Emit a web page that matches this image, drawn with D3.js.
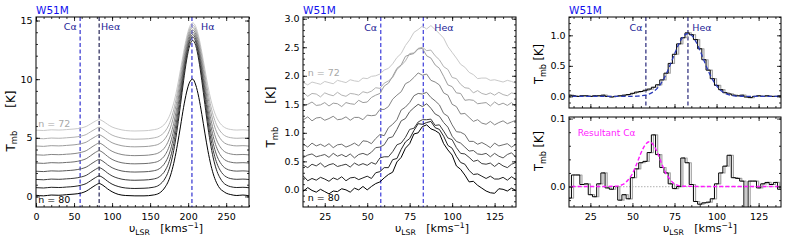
<!DOCTYPE html>
<html>
<head>
<meta charset="utf-8">
<script src="https://cdn.jsdelivr.net/npm/d3@7"></script>
<style>
  body { margin: 0; background: #fff; }
  svg { display: block; }
</style>
</head>
<body>
<svg id="chart" width="789" height="242"></svg>
<script>
// ---------- data ----------
const orders = [72, 73, 74, 75, 76, 77, 78, 79, 80];

// left panel: full band, velocity grid (km/s)
const wideV = [0,10,20,30,40,50,60,66,72,78,83,88,94,100,108,118,130,142,154,162,
  170,174,178,182,186,190,194,198,202,206,210,214,218,222,226,230,234,238,242,246,250,
  256,264,272,280];
const wide72 = [5.65,5.62,5.68,5.66,5.70,5.75,5.85,5.97,6.19,6.42,6.55,6.42,6.15,5.92,5.75,5.62,5.58,5.60,5.68,5.82,
  6.24,6.66,7.30,8.21,9.41,10.83,12.29,13.58,14.48,14.80,14.48,13.58,12.29,10.83,9.41,8.21,7.30,6.66,6.24,5.97,5.81,
  5.71,5.66,5.68,5.64];
const wide73 = [4.95,4.92,4.98,4.96,5.00,5.05,5.16,5.28,5.52,5.75,5.90,5.75,5.47,5.23,5.05,4.92,4.88,4.90,4.98,5.13,
  5.58,6.01,6.69,7.65,8.92,10.41,11.96,13.32,14.26,14.60,14.26,13.32,11.96,10.41,8.92,7.65,6.69,6.01,5.58,5.29,5.12,
  5.01,4.96,4.98,4.94];
const wide74 = [4.30,4.27,4.33,4.31,4.35,4.40,4.51,4.63,4.87,5.10,5.25,5.10,4.82,4.58,4.40,4.27,4.23,4.25,4.33,4.49,
  4.96,5.41,6.12,7.13,8.45,10.02,11.63,13.06,14.05,14.40,14.05,13.06,11.63,10.02,8.45,7.13,6.12,5.41,4.96,4.65,4.48,
  4.37,4.31,4.33,4.29];
const wide75 = [3.55,3.52,3.58,3.56,3.60,3.65,3.77,3.90,4.15,4.40,4.55,4.40,4.10,3.85,3.65,3.52,3.48,3.50,3.58,3.75,
  4.24,4.72,5.47,6.53,7.93,9.58,11.28,12.78,13.83,14.20,13.83,12.78,11.28,9.58,7.93,6.53,5.47,4.72,4.24,3.92,3.74,
  3.62,3.56,3.58,3.54];
const wide76 = [2.85,2.82,2.88,2.86,2.90,2.95,3.08,3.22,3.48,3.75,3.90,3.74,3.42,3.16,2.95,2.82,2.78,2.80,2.88,3.05,
  3.57,4.08,4.86,5.97,7.43,9.16,10.94,12.52,13.61,14.00,13.61,12.52,10.94,9.16,7.43,5.97,4.86,4.08,3.57,3.24,3.05,
  2.92,2.86,2.88,2.84];
const wide77 = [2.15,2.12,2.18,2.16,2.20,2.25,2.37,2.50,2.75,3.00,3.15,3.00,2.70,2.45,2.25,2.12,2.08,2.10,2.18,2.36,
  2.91,3.43,4.25,5.41,6.94,8.74,10.61,12.25,13.39,13.80,13.39,12.25,10.61,8.74,6.94,5.41,4.25,3.43,2.91,2.56,2.36,
  2.22,2.16,2.18,2.14];
const wide78 = [1.45,1.42,1.48,1.46,1.50,1.55,1.67,1.80,2.05,2.30,2.45,2.30,2.00,1.75,1.55,1.42,1.38,1.40,1.48,1.67,
  2.24,2.79,3.64,4.85,6.44,8.33,10.27,11.98,13.17,13.60,13.17,11.98,10.27,8.33,6.44,4.85,3.64,2.79,2.24,1.88,1.67,
  1.52,1.46,1.48,1.44];
const wide79 = [0.75,0.72,0.78,0.76,0.80,0.85,0.97,1.10,1.35,1.60,1.75,1.60,1.30,1.05,0.85,0.72,0.68,0.70,0.78,0.98,
  1.57,2.13,3.01,4.26,5.91,7.85,9.86,11.63,12.86,13.30,12.86,11.63,9.86,7.85,5.91,4.26,3.01,2.13,1.57,1.19,0.98,
  0.83,0.76,0.78,0.74];
const wide80 = [0.10,0.05,0.12,0.10,0.15,0.20,0.30,0.45,0.70,0.95,1.10,0.95,0.65,0.40,0.18,0.08,0.05,0.05,0.12,0.28,
  0.82,1.30,2.05,3.10,4.45,6.00,7.60,8.90,9.75,10.00,9.50,8.45,7.00,5.40,3.90,2.65,1.72,1.08,0.66,0.45,0.28,
  0.16,0.08,0.12,0.05];

// middle panel: He/C region, 2.5 km/s channels
const zoomV = [10,12.5,15,17.5,20,22.5,25,27.5,30,32.5,35,37.5,40,42.5,45,47.5,50,52.5,55,57.5,
  60,62.5,65,67.5,70,72.5,75,77.5,80,82.5,85,87.5,90,92.5,95,97.5,100,102.5,105,107.5,
  110,112.5,115,117.5,120,122.5,125,127.5,130,132.5,135,137.5,140];
const zoom72 = [1.85,1.88,1.84,1.89,1.87,1.85,1.90,1.88,1.86,1.92,1.90,1.88,1.93,1.91,1.90,1.96,1.95,1.99,2.00,2.03,
  2.10,2.13,2.21,2.32,2.39,2.53,2.63,2.76,2.81,2.87,2.82,2.88,2.81,2.74,2.66,2.51,2.41,2.31,2.20,2.15,
  2.06,2.02,1.95,1.96,1.96,1.92,1.93,1.91,1.89,1.92,1.90,1.87,1.88];
const zoom73 = [1.66,1.70,1.64,1.69,1.68,1.63,1.70,1.67,1.65,1.71,1.66,1.64,1.69,1.68,1.66,1.72,1.70,1.73,1.79,1.78,
  1.87,1.91,1.97,2.11,2.18,2.26,2.39,2.40,2.48,2.50,2.44,2.45,2.35,2.28,2.16,2.11,1.97,1.95,1.85,1.79,
  1.78,1.70,1.74,1.69,1.67,1.70,1.66,1.71,1.67,1.65,1.70,1.68,1.66];
const zoom74 = [1.52,1.47,1.50,1.54,1.48,1.49,1.53,1.47,1.52,1.51,1.46,1.53,1.51,1.50,1.57,1.53,1.54,1.62,1.66,1.69,
  1.82,1.87,1.99,2.13,2.19,2.34,2.37,2.39,2.47,2.48,2.35,2.31,2.19,2.13,1.99,1.84,1.81,1.70,1.69,1.57,
  1.58,1.57,1.51,1.52,1.53,1.47,1.54,1.49,1.52,1.48,1.53,1.46,1.51];
const zoom75 = [1.27,1.23,1.28,1.21,1.26,1.27,1.22,1.25,1.29,1.23,1.24,1.28,1.22,1.27,1.27,1.23,1.31,1.30,1.31,1.41,
  1.41,1.46,1.59,1.66,1.72,1.86,1.90,1.97,2.05,2.01,2.03,1.92,1.89,1.84,1.70,1.66,1.50,1.46,1.33,1.34,
  1.27,1.20,1.23,1.17,1.15,1.20,1.14,1.18,1.21,1.16,1.19,1.22,1.17];
const zoom76 = [0.78,0.80,0.75,0.82,0.77,0.80,0.76,0.81,0.74,0.79,0.80,0.75,0.78,0.82,0.77,0.86,0.85,0.81,0.90,0.97,
  0.95,1.09,1.15,1.23,1.40,1.45,1.53,1.65,1.69,1.68,1.71,1.62,1.56,1.49,1.34,1.29,1.14,1.02,1.01,0.97,
  0.85,0.85,0.80,0.83,0.79,0.74,0.82,0.77,0.79,0.81,0.75,0.80,0.76];
const zoom77 = [0.64,0.57,0.61,0.63,0.58,0.60,0.62,0.57,0.64,0.59,0.62,0.58,0.63,0.56,0.62,0.64,0.61,0.66,0.74,0.75,
  0.79,0.91,0.93,1.06,1.21,1.25,1.37,1.44,1.50,1.46,1.51,1.43,1.33,1.29,1.18,1.10,0.94,0.85,0.82,0.75,
  0.68,0.69,0.63,0.62,0.64,0.58,0.64,0.59,0.56,0.62,0.65,0.57,0.61];
const zoom78 = [0.46,0.43,0.39,0.45,0.42,0.47,0.40,0.44,0.46,0.41,0.43,0.45,0.40,0.47,0.43,0.46,0.43,0.48,0.45,0.56,
  0.58,0.58,0.67,0.79,0.82,0.92,1.06,1.08,1.19,1.23,1.23,1.24,1.13,1.14,1.03,0.91,0.88,0.74,0.64,0.63,
  0.57,0.50,0.52,0.46,0.45,0.47,0.41,0.47,0.42,0.39,0.45,0.48,0.40];
const zoom79 = [0.21,0.24,0.16,0.20,0.17,0.22,0.19,0.15,0.21,0.18,0.23,0.16,0.21,0.22,0.18,0.21,0.24,0.20,0.30,0.32,
  0.39,0.39,0.53,0.55,0.71,0.84,0.90,1.04,1.16,1.15,1.18,1.20,1.09,1.06,0.94,0.78,0.73,0.59,0.48,0.45,
  0.34,0.27,0.28,0.24,0.20,0.24,0.19,0.19,0.22,0.17,0.23,0.18,0.15];
const zoom80 = [0.03,-0.02,0.04,-0.01,-0.04,0.01,-0.03,-0.07,-0.02,-0.03,0.02,0.00,-0.04,0.03,0.00,0.06,0.00,0.06,0.11,0.14,
  0.21,0.27,0.31,0.49,0.57,0.73,0.81,0.98,1.00,1.11,1.14,1.07,1.04,0.99,0.81,0.70,0.61,0.42,0.36,0.26,
  0.14,0.15,0.08,0.03,-0.02,-0.05,-0.06,0.02,0.01,-0.02,0.03,-0.01,0.00];

// right panel: stacked spectrum, Gaussian fit, residual and C-alpha fit
const stackT = [0.01,0.02,0.01,0.00,0.01,0.01,0.00,0.01,0.01,0.02,0.00,-0.01,0.00,0.01,0.02,0.03,0.05,0.07,0.08,0.10,
  0.12,0.15,0.19,0.27,0.38,0.54,0.69,0.86,0.96,1.04,1.01,0.93,0.78,0.60,0.43,0.29,0.18,0.11,0.06,0.04,
  0.02,0.01,0.02,-0.01,-0.02,0.00,0.01,0.00,0.01,0.00,0.00,0.01,0.00];
const fitV = [10,20,30,40,45.5,48,50.5,53,55.5,58,60.5,63,65.5,68,70.5,73,75.5,78,80.5,83,
  85.5,88,90.5,93,95.5,98,100.5,103,105.5,108,110.5,113,115.5,118,120.5,130,140];
const fitT = [0,0,0,0,0,0,0.002,0.004,0.010,0.022,0.045,0.087,0.156,0.257,0.392,0.555,0.728,0.883,0.991,1.03,
  0.991,0.883,0.728,0.555,0.392,0.257,0.156,0.087,0.045,0.022,0.010,0.004,0.002,0,0,0,0];
const residT = [-0.018,-0.017,0.017,0.017,0.003,0.004,-0.012,-0.015,0.004,0.020,-0.002,-0.004,0.000,-0.020,-0.012,-0.018,0.013,0.026,0.035,0.037,
  0.050,0.076,0.047,0.028,0.020,0.004,-0.003,0.000,0.042,0.035,0.003,-0.022,-0.026,-0.024,-0.023,-0.018,0.004,0.020,0.030,0.046,
  0.013,0.012,0.008,-0.040,0.008,0.008,-0.002,0.004,0.006,0.003,0.006,-0.004,0.002];
const caFitV = [10,30,40,45,47.5,50,52.5,55,57.5,60,62.5,65,67.5,70,72.5,75,80,100,140];
const caFitT = [0,0,0.0005,0.004,0.010,0.019,0.033,0.049,0.061,0.066,0.061,0.049,0.033,0.019,0.010,0.004,0.0005,0,0];

// tick labels
const wideXTicks = [0, 50, 100, 150, 200, 250];
const wideYTicks = [0, 5, 10, 15];
const zoomXTicks = [25, 50, 75, 100, 125];
const zoomYTicks = [0, 0.5, 1.0, 1.5, 2.0, 2.5, 3.0];
const stackYTicks = [0, 0.5, 1.0];
const residYTicks = [0, 0.1];

// ---------- drawing ----------
const FONT = '"DejaVu Sans", "Liberation Sans", sans-serif';
const greys = ['#c9c9c9', '#b2b2b2', '#9c9c9c', '#868686', '#6e6e6e', '#575757', '#3d3d3d', '#222222', '#000000'];
const svg = d3.select('#chart');

function panel(cfg) {
  const g = svg.append('g').attr('transform', `translate(${cfg.left},${cfg.top})`);
  const x = d3.scaleLinear().domain(cfg.xDomain).range([0, cfg.width]);
  const y = d3.scaleLinear().domain(cfg.yDomain).range([cfg.height, 0]);
  g.append('clipPath').attr('id', 'clip-' + cfg.id)
    .append('rect').attr('width', cfg.width).attr('height', cfg.height);
  const plot = g.append('g').attr('clip-path', `url(#clip-${cfg.id})`);
  return {g, x, y, plot, cfg};
}

function styleAxis(sel) {
  sel.select('.domain').remove();
  sel.selectAll('line').attr('stroke', '#000').attr('stroke-width', 0.8);
  sel.selectAll('text').attr('font-family', FONT).attr('font-size', 9.5).attr('fill', '#000');
}

// ticks on all four sides (inward), labels left/bottom, then the box
function frame(p) {
  const {g, x, y, cfg} = p;
  const w = cfg.width, h = cfg.height;
  const blank = () => '';
  const xMinor = d3.range(cfg.xMinor[0], cfg.xMinor[1] + 1e-9, cfg.xMinor[2]);
  const yMinor = d3.range(cfg.yMinor[0], cfg.yMinor[1] + 1e-9, cfg.yMinor[2]);

  g.append('g').attr('transform', `translate(0,${h})`)
    .call(d3.axisBottom(x).tickValues(cfg.xTicks).tickSize(-4).tickPadding(6.5)
      .tickFormat(cfg.xLabels ? d3.format('d') : blank))
    .call(styleAxis);
  g.append('g').attr('transform', `translate(0,${h})`)
    .call(d3.axisBottom(x).tickValues(xMinor).tickSize(-2).tickFormat(blank)).call(styleAxis);
  g.append('g').call(d3.axisTop(x).tickValues(cfg.xTicks).tickSize(-4).tickFormat(blank)).call(styleAxis);
  g.append('g').call(d3.axisTop(x).tickValues(xMinor).tickSize(-2).tickFormat(blank)).call(styleAxis);

  g.append('g')
    .call(d3.axisLeft(y).tickValues(cfg.yTicks).tickSize(-4).tickPadding(3.5).tickFormat(cfg.yFormat))
    .call(styleAxis);
  g.append('g').call(d3.axisLeft(y).tickValues(yMinor).tickSize(-2).tickFormat(blank)).call(styleAxis);
  g.append('g').attr('transform', `translate(${w},0)`)
    .call(d3.axisRight(y).tickValues(cfg.yTicks).tickSize(-4).tickFormat(blank)).call(styleAxis);
  g.append('g').attr('transform', `translate(${w},0)`)
    .call(d3.axisRight(y).tickValues(yMinor).tickSize(-2).tickFormat(blank)).call(styleAxis);

  g.append('rect').attr('width', w).attr('height', h)
    .attr('fill', 'none').attr('stroke', '#000').attr('stroke-width', 1);
}

function vline(p, v, color) {
  p.plot.append('line')
    .attr('x1', p.x(v)).attr('x2', p.x(v))
    .attr('y1', 0).attr('y2', p.cfg.height)
    .attr('stroke', color).attr('stroke-width', 1.1)
    .attr('stroke-dasharray', '4,2.5');
}

function label(p, v, t, text, color, anchor, size) {
  p.g.append('text')
    .attr('x', p.x(v)).attr('y', p.y(t))
    .attr('text-anchor', anchor || 'start')
    .attr('font-family', FONT).attr('font-size', size || 9.5)
    .attr('fill', color).text(text);
}

function title(p) {
  p.g.append('text').attr('x', 0).attr('y', -3)
    .attr('font-family', FONT).attr('font-size', 10.5).attr('fill', '#1010ee')
    .text('W51M');
}

function ylabel(px, py, spaces, size) {
  const t = svg.append('text')
    .attr('transform', `translate(${px},${py}) rotate(-90)`)
    .attr('text-anchor', 'middle')
    .attr('font-family', FONT).attr('font-size', size).attr('fill', '#000');
  t.append('tspan').text('T');
  t.append('tspan').attr('font-size', size * 0.7).attr('dy', 2.8).text('mb');
  t.append('tspan').attr('dy', -2.8).text('\u00a0'.repeat(spaces) + '[K]');
}

function xlabel(px, py) {
  const t = svg.append('text')
    .attr('x', px).attr('y', py)
    .attr('text-anchor', 'middle')
    .attr('font-family', FONT).attr('font-size', 11).attr('fill', '#000');
  t.append('tspan').text('υ');
  t.append('tspan').attr('font-size', 7.7).attr('dy', 2.8).text('LSR');
  t.append('tspan').attr('dy', -2.8).text('\u00a0\u00a0\u00a0[kms');
  t.append('tspan').attr('font-size', 7.7).attr('dy', -4).text('\u22121');
  t.append('tspan').attr('dy', 4).text(']');
}

function spectrum(p, xs, ys, color, curve, width) {
  const line = d3.line()
    .x((d, i) => p.x(xs[i]))
    .y(d => p.y(d))
    .curve(curve || d3.curveLinear);
  return p.plot.append('path').datum(ys)
    .attr('d', line).attr('fill', 'none')
    .attr('stroke', color).attr('stroke-width', width || 1)
    .attr('stroke-linejoin', 'round');
}

// ---- left panel ----
const p1 = panel({id: 'a', left: 36, top: 17, width: 213, height: 190,
  xDomain: [0, 280], yDomain: [-0.9, 15.3],
  xTicks: wideXTicks, xMinor: [0, 280, 10], xLabels: true,
  yTicks: wideYTicks, yMinor: [0, 15, 1], yFormat: d3.format('d')});
const wideSet = [wide72, wide73, wide74, wide75, wide76, wide77, wide78, wide79, wide80];
vline(p1, 58, '#2020cc');
vline(p1, 83, '#121248');
vline(p1, 205, '#2020cc');
wideSet.forEach((s, i) => spectrum(p1, wideV, s, greys[i], d3.curveMonotoneX, 1));
frame(p1);

// ---- middle panel ----
const p2 = panel({id: 'b', left: 303, top: 17, width: 213, height: 190,
  xDomain: [12.2, 137.6], yDomain: [-0.3, 3.03],
  xTicks: zoomXTicks, xMinor: [15, 135, 5], xLabels: true,
  yTicks: zoomYTicks, yMinor: [-0.2, 3.0, 0.1], yFormat: d3.format('.1f')});
const zoomSet = [zoom72, zoom73, zoom74, zoom75, zoom76, zoom77, zoom78, zoom79, zoom80];
vline(p2, 58, '#2a2ad6');
vline(p2, 83, '#2a2ad6');
zoomSet.forEach((s, i) => spectrum(p2, zoomV, s, greys[i], d3.curveLinear, 1));
frame(p2);

// ---- right panels ----
const p3 = panel({id: 'c', left: 569, top: 17, width: 212, height: 91,
  xDomain: [12.3, 138.3], yDomain: [-0.19, 1.3],
  xTicks: zoomXTicks, xMinor: [15, 135, 5], xLabels: false,
  yTicks: stackYTicks, yMinor: [-0.1, 1.3, 0.1], yFormat: d3.format('.1f')});
vline(p3, 58, '#14146e');
vline(p3, 83, '#14146e');
spectrum(p3, zoomV, stackT, '#a6a6a6', d3.curveStepAfter, 1.2);
spectrum(p3, zoomV, stackT, '#000', d3.curveStep, 1);
spectrum(p3, fitV, fitT, '#2a3ab8', d3.curveMonotoneX, 1.3).attr('stroke-dasharray', '4.5,2.5');
frame(p3);

const p4 = panel({id: 'd', left: 569, top: 117, width: 212, height: 90,
  xDomain: [12.3, 138.3], yDomain: [-0.0301, 0.1023],
  xTicks: zoomXTicks, xMinor: [15, 135, 5], xLabels: true,
  yTicks: residYTicks, yMinor: [-0.02, 0.1, 0.02], yFormat: d3.format('.1f')});
p4.plot.append('line')
  .attr('x1', 0).attr('x2', p4.cfg.width).attr('y1', p4.y(0)).attr('y2', p4.y(0))
  .attr('stroke', '#c0c0c0').attr('stroke-width', 1.3).attr('stroke-dasharray', '1.5,1.5');
spectrum(p4, zoomV, residT, '#a6a6a6', d3.curveStepAfter, 1.2);
spectrum(p4, zoomV, residT, '#000', d3.curveStep, 1);
spectrum(p4, caFitV, caFitT, '#ff1aff', d3.curveMonotoneX, 1.4).attr('stroke-dasharray', '4,2.2');
frame(p4);

// ---- annotations ----
[p1, p2, p3].forEach(title);
const navy = '#1c1c96';
label(p1, 53.5, 14.15, 'Cα', navy, 'end');
label(p1, 85.4, 14.15, 'Heα', navy);
label(p1, 217, 14.15, 'Hα', navy);
label(p1, 3, 5.95, 'n = 72', '#a8a8a8');
label(p1, 3, -0.6, 'n = 80', '#000');

label(p2, 55.8, 2.78, 'Cα', navy, 'end');
label(p2, 89.5, 2.78, 'Heα', navy);
label(p2, 15, 2.0, 'n = 72', '#a8a8a8');
label(p2, 15, -0.2, 'n = 80', '#000');

label(p3, 56, 1.07, 'Cα', navy, 'end');
label(p3, 85.6, 1.07, 'Heα', navy);
label(p4, 17.5, 0.075, 'Resultant Cα', '#ff1aff', 'start', 9);

ylabel(14.5, 121, 6, 12);
ylabel(275, 117, 6, 12);
ylabel(543, 64, 1, 11.5);
ylabel(543, 151, 1, 11.5);
xlabel(166, 232);
xlabel(432, 232);
xlabel(700, 232);
</script>
</body>
</html>
